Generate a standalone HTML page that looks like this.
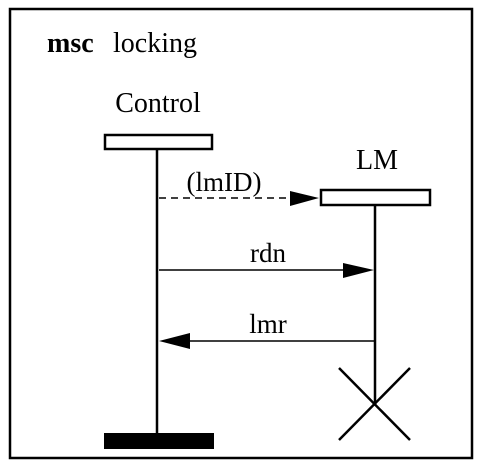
<!DOCTYPE html>
<html><head><meta charset="utf-8"><style>
html,body{margin:0;padding:0;background:#fff;}
</style></head><body>
<svg width="483" height="470" xmlns="http://www.w3.org/2000/svg" font-family="Liberation Serif, serif">
<rect x="10" y="9" width="462" height="449" fill="none" stroke="#000" stroke-width="2.5"/>
<text x="47" y="52" font-size="28" font-weight="bold">msc</text>
<text x="113" y="52" font-size="28">locking</text>
<text x="158" y="112" font-size="28" text-anchor="middle">Control</text>
<rect x="105" y="135" width="107" height="14" fill="#fff" stroke="#000" stroke-width="2.5"/>
<line x1="157" y1="149" x2="157" y2="434" stroke="#000" stroke-width="2.5"/>
<rect x="104" y="433" width="110" height="16" fill="#000"/>
<text x="377" y="169" font-size="28" text-anchor="middle">LM</text>
<rect x="321" y="190" width="109" height="15" fill="#fff" stroke="#000" stroke-width="2.5"/>
<line x1="375" y1="205" x2="375" y2="405" stroke="#000" stroke-width="2.5"/>
<line x1="339" y1="368" x2="410" y2="440" stroke="#000" stroke-width="2.5"/>
<line x1="410" y1="368" x2="339" y2="440" stroke="#000" stroke-width="2.5"/>
<text x="224" y="191" font-size="27" text-anchor="middle">(lmID)</text>
<line x1="159" y1="198" x2="295" y2="198" stroke="#000" stroke-width="1.5" stroke-dasharray="7,5"/>
<polygon points="290,191 319,198 290,206" fill="#000"/>
<text x="268" y="262" font-size="27" text-anchor="middle">rdn</text>
<line x1="159" y1="270" x2="350" y2="270" stroke="#000" stroke-width="1.5"/>
<polygon points="343,263 374,270 343,278" fill="#000"/>
<text x="268" y="333" font-size="27" text-anchor="middle">lmr</text>
<line x1="185" y1="341" x2="375" y2="341" stroke="#000" stroke-width="1.5"/>
<polygon points="190,333 159,341 190,349" fill="#000"/>
</svg>
</body></html>
